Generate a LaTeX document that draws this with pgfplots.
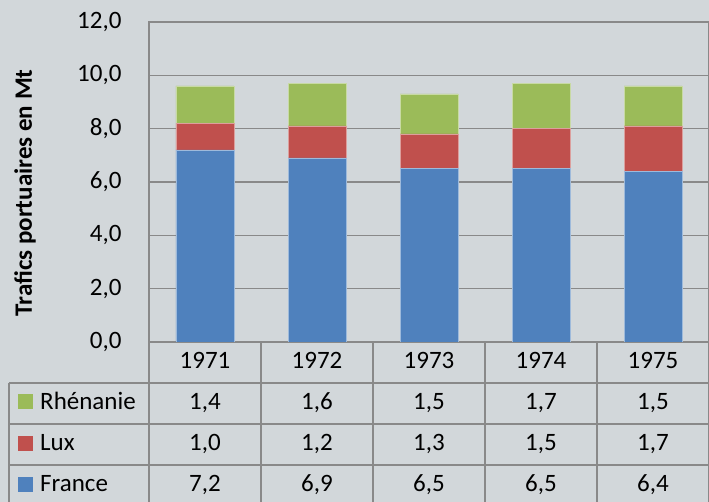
\documentclass[border=0pt]{standalone}
\usepackage{fontspec}
\setmainfont{Carlito}
\usepackage{pgfplots}
\pgfplotsset{compat=1.18}
\definecolor{bg}{HTML}{D2D7DA}
\definecolor{lgray}{HTML}{898989}
\definecolor{cblue}{HTML}{4F81BD}
\definecolor{cred}{HTML}{C0504D}
\definecolor{cgreen}{HTML}{9BBB59}
\begin{document}
\fontsize{25}{29}\selectfont
\begin{tikzpicture}[x=1pt,y=1pt]
\fill[bg] (-149,-160) rectangle (560,342);
\path[use as bounding box] (-149,-160) rectangle (560,342);
\begin{axis}[
  at={(0,0)}, anchor=south west,
  scale only axis, width=560pt, height=320pt,
  xmin=-0.5, xmax=4.5, ymin=0, ymax=12,
  ybar stacked, bar width=58pt,
  xtick=\empty,
  ytick={0,2,4,6,8,10,12},
  ymajorgrids,
  grid style={lgray, line width=1.4pt},
  axis line style={lgray, line width=1.4pt},
  major tick length=0pt,
  yticklabel style={xshift=-19pt, text=black},
  /pgf/number format/.cd, fixed, fixed zerofill, precision=1, use comma, assume math mode=true,
  /pgfplots/.cd,
  every axis y label/.style={at={(axis description cs:-0.2214,0.466)}, rotate=90, anchor=center, font=\bfseries},
  ylabel={Trafics portuaires en Mt},
]
\addplot[fill=cblue, draw=cblue!55!white, line width=0.7pt] coordinates {(0,7.2) (1,6.9) (2,6.5) (3,6.5) (4,6.4)};
\addplot[fill=cred, draw=cred!55!white, line width=0.7pt] coordinates {(0,1.0) (1,1.2) (2,1.3) (3,1.5) (4,1.7)};
\addplot[fill=cgreen, draw=cgreen!55!white, line width=0.7pt] coordinates {(0,1.4) (1,1.6) (2,1.5) (3,1.7) (4,1.5)};
\end{axis}
% data table grid
\begin{scope}[lgray, line width=1.4pt]
\draw (-140,-41) -- (560,-41);
\draw (-140,-82) -- (560,-82);
\draw (-140,-123) -- (560,-123);
\draw (-140,-41) -- (-140,-160);
\foreach \x in {0,112,224,336,448,560} \draw (\x,0) -- (\x,-160);
\end{scope}
% years
\node[anchor=base, inner sep=0pt] at (56,-27) {1971};
\node[anchor=base, inner sep=0pt] at (168,-27) {1972};
\node[anchor=base, inner sep=0pt] at (280,-27) {1973};
\node[anchor=base, inner sep=0pt] at (392,-27) {1974};
\node[anchor=base, inner sep=0pt] at (504,-27) {1975};
% rows
\node[anchor=base, inner sep=0pt] at (56,-68) {1,4};
\node[anchor=base, inner sep=0pt] at (168,-68) {1,6};
\node[anchor=base, inner sep=0pt] at (280,-68) {1,5};
\node[anchor=base, inner sep=0pt] at (392,-68) {1,7};
\node[anchor=base, inner sep=0pt] at (504,-68) {1,5};
\node[anchor=base, inner sep=0pt] at (56,-109) {1,0};
\node[anchor=base, inner sep=0pt] at (168,-109) {1,2};
\node[anchor=base, inner sep=0pt] at (280,-109) {1,3};
\node[anchor=base, inner sep=0pt] at (392,-109) {1,5};
\node[anchor=base, inner sep=0pt] at (504,-109) {1,7};
\node[anchor=base, inner sep=0pt] at (56,-150) {7,2};
\node[anchor=base, inner sep=0pt] at (168,-150) {6,9};
\node[anchor=base, inner sep=0pt] at (280,-150) {6,5};
\node[anchor=base, inner sep=0pt] at (392,-150) {6,5};
\node[anchor=base, inner sep=0pt] at (504,-150) {6,4};
% legend keys
\fill[cgreen] (-131,-67) rectangle (-116,-52);
\fill[cred] (-131,-109) rectangle (-116,-94);
\fill[cblue] (-131,-150) rectangle (-116,-135);
\node[anchor=base west, inner sep=0pt] at (-109,-68) {Rhénanie};
\node[anchor=base west, inner sep=0pt] at (-109,-109) {Lux};
\node[anchor=base west, inner sep=0pt] at (-109,-150) {France};
\end{tikzpicture}
\end{document}
